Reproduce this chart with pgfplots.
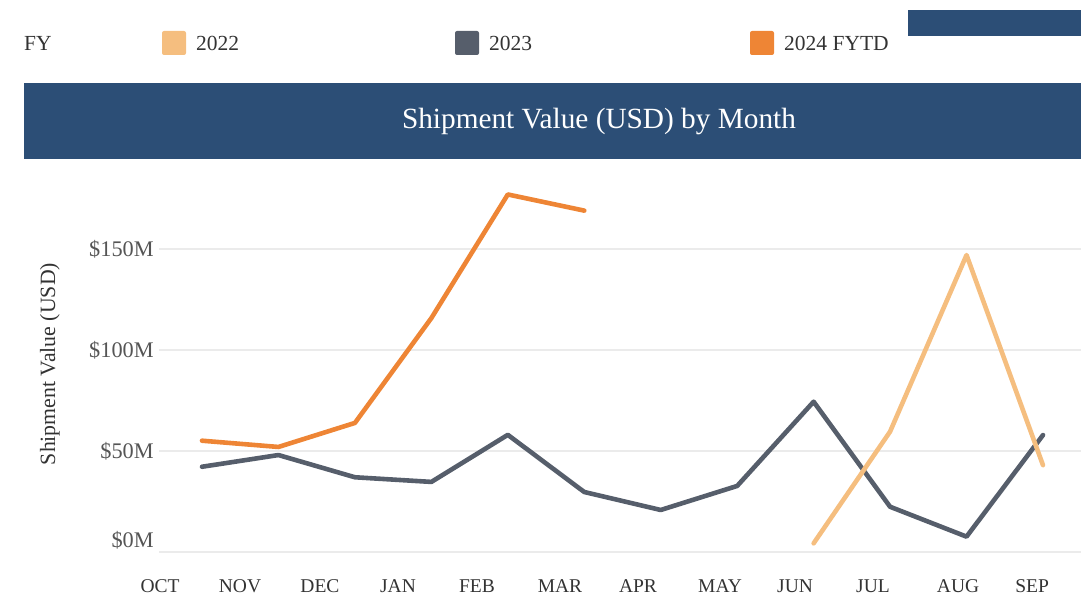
\documentclass[border=0pt]{standalone}
\usepackage{fontspec}
\setmainfont{Liberation Serif}
\usepackage{pgfplots}
\pgfplotsset{compat=1.18}
\definecolor{c22}{HTML}{F5BE7F}
\definecolor{c23}{HTML}{565E6B}
\definecolor{c24}{HTML}{EE8535}
\definecolor{banner}{HTML}{2C4E76}
\definecolor{gridc}{HTML}{EBEBEB}
\definecolor{tickc}{HTML}{555555}
\definecolor{txtc}{HTML}{333333}
\begin{document}
\begin{tikzpicture}
\path[use as bounding box] (0pt,0pt) rectangle (1081pt,598pt);
% top-right bar and title banner
\fill[banner] (908pt,562pt) rectangle (1081pt,588pt);
\fill[banner] (24pt,439pt) rectangle (1081pt,515pt);
\node[text=white, font=\fontsize{29.3}{32}\selectfont] at (599pt,477pt) {Shipment Value (USD) by Month};
% legend
\node[anchor=west, text=txtc, font=\fontsize{21.5}{24}\selectfont, inner sep=0] at (24pt,555pt) {FY};
\fill[c22, rounded corners=2pt] (162pt,543pt) rectangle (186pt,567pt);
\node[anchor=west, text=txtc, font=\fontsize{21.5}{24}\selectfont, inner sep=0] at (196pt,555pt) {2022};
\fill[c23, rounded corners=2pt] (455pt,543pt) rectangle (479pt,567pt);
\node[anchor=west, text=txtc, font=\fontsize{21.5}{24}\selectfont, inner sep=0] at (489pt,555pt) {2023};
\fill[c24, rounded corners=2pt] (750pt,543pt) rectangle (774pt,567pt);
\node[anchor=west, text=txtc, font=\fontsize{21.5}{24}\selectfont, inner sep=0] at (784pt,555pt) {2024 FYTD};
% y label
\node[rotate=90, text=txtc, font=\fontsize{21.8}{24}\selectfont] at (50pt,234pt) {Shipment Value (USD)};
\begin{axis}[
  at={(159.2pt,46pt)}, anchor=south west,
  scale only axis, width=922pt, height=383.8pt,
  xmin=-0.56, xmax=11.5, ymin=0, ymax=190,
  axis line style={draw=none},
  ymajorgrids, grid style={gridc, line width=1.5pt},
  ytick={0,50,100,150},
  yticklabels={\raisebox{12pt}{\$0M},\$50M,\$100M,\$150M},
  xtick={-0.549,0.497,1.543,2.564,3.597,4.683,5.703,6.776,7.757,8.777,9.889,10.857},
  xticklabels={OCT,NOV,DEC,JAN,FEB,MAR,APR,MAY,JUN,JUL,AUG,SEP},
  major tick length=0pt,
  xticklabel style={anchor=base, yshift=-40pt, text=txtc, font=\fontsize{19.5}{22}\selectfont},
  yticklabel style={anchor=base east, yshift=-7.5pt, xshift=-2pt, text=tickc, font=\fontsize{22.3}{24}\selectfont},
  clip=false,
  every axis plot/.append style={line width=4.6pt, line join=round, line cap=round, mark=none},
]
\addplot[c23] coordinates {(0,42.2)(1,48)(2,37)(3,34.7)(4,58)(5,29.7)(6,20.8)(7,32.7)(8,74.4)(9,22.4)(10,7.6)(11,57.9)};
\addplot[c24] coordinates {(0,55.1)(1,52)(2,63.9)(3,115.8)(4,177)(5,169)};
\addplot[c22] coordinates {(8,4.3)(9,59.6)(10,147)(11,43)};
\end{axis}
\end{tikzpicture}
\end{document}
